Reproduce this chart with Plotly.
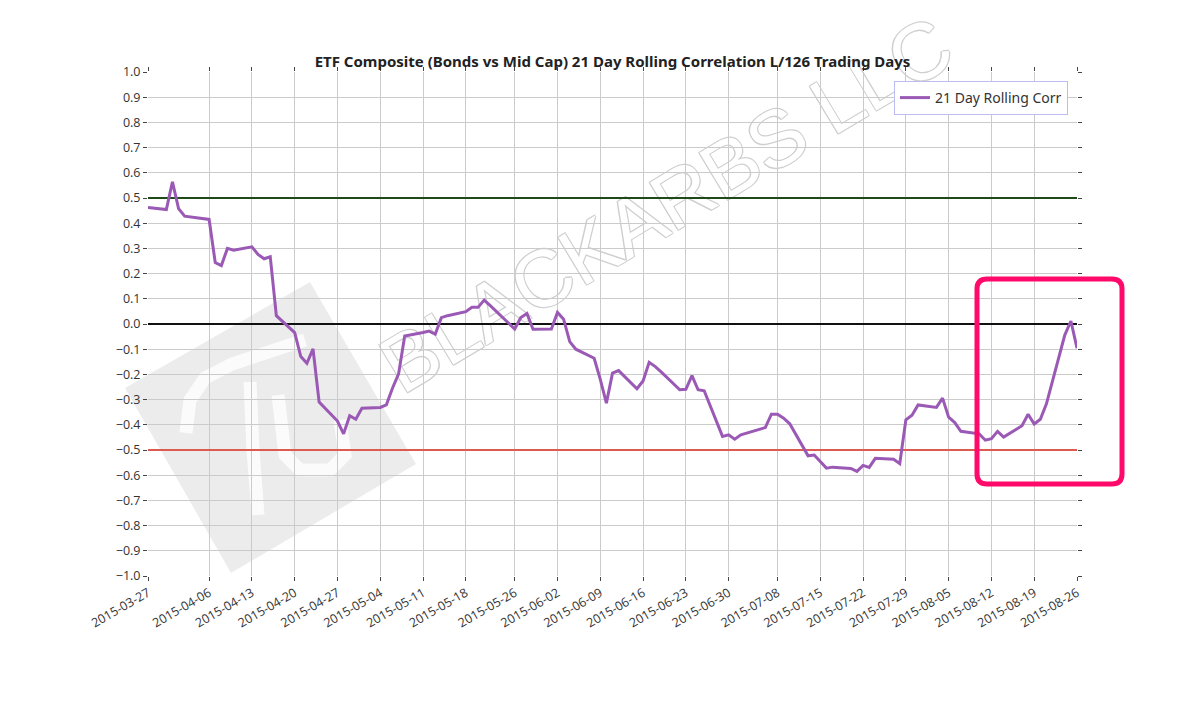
import plotly.graph_objects as go

# ---------------- data ----------------
dates = [
    "2015-03-27", "2015-03-30", "2015-03-31", "2015-04-01", "2015-04-02",
    "2015-04-06", "2015-04-07", "2015-04-08", "2015-04-09", "2015-04-10",
    "2015-04-13", "2015-04-14", "2015-04-15", "2015-04-16", "2015-04-17",
    "2015-04-20", "2015-04-21", "2015-04-22", "2015-04-23", "2015-04-24",
    "2015-04-27", "2015-04-28", "2015-04-29", "2015-04-30", "2015-05-01",
    "2015-05-04", "2015-05-05", "2015-05-06", "2015-05-07", "2015-05-08",
    "2015-05-11", "2015-05-12", "2015-05-13", "2015-05-14", "2015-05-15",
    "2015-05-18", "2015-05-19", "2015-05-20", "2015-05-21", "2015-05-22",
    "2015-05-26", "2015-05-27", "2015-05-28", "2015-05-29", "2015-06-01",
    "2015-06-02", "2015-06-03", "2015-06-04", "2015-06-05", "2015-06-08",
    "2015-06-09", "2015-06-10", "2015-06-11", "2015-06-12", "2015-06-15",
    "2015-06-16", "2015-06-17", "2015-06-18", "2015-06-19", "2015-06-22",
    "2015-06-23", "2015-06-24", "2015-06-25", "2015-06-26", "2015-06-29",
    "2015-06-30", "2015-07-01", "2015-07-02", "2015-07-06", "2015-07-07",
    "2015-07-08", "2015-07-09", "2015-07-10", "2015-07-13", "2015-07-14",
    "2015-07-15", "2015-07-16", "2015-07-17", "2015-07-20", "2015-07-21",
    "2015-07-22", "2015-07-23", "2015-07-24", "2015-07-27", "2015-07-28",
    "2015-07-29", "2015-07-30", "2015-07-31", "2015-08-03", "2015-08-04",
    "2015-08-05", "2015-08-06", "2015-08-07", "2015-08-10", "2015-08-11",
    "2015-08-12", "2015-08-13", "2015-08-14", "2015-08-17", "2015-08-18",
    "2015-08-19", "2015-08-20", "2015-08-21", "2015-08-24", "2015-08-25",
    "2015-08-26",
]

corr_21d = [
    0.462, 0.454, 0.564, 0.458, 0.428,
    0.415, 0.244, 0.232, 0.300, 0.293,
    0.306, 0.276, 0.259, 0.267, 0.033,
    -0.034, -0.129, -0.156, -0.099, -0.310,
    -0.385, -0.436, -0.364, -0.378, -0.334,
    -0.331, -0.321, -0.255, -0.198, -0.048,
    -0.034, -0.028, -0.040, 0.025, 0.033,
    0.049, 0.066, 0.066, 0.095, 0.073,
    -0.020, 0.026, 0.042, -0.021, -0.020,
    0.046, 0.019, -0.070, -0.100, -0.136,
    -0.220, -0.314, -0.195, -0.185, -0.257,
    -0.226, -0.152, -0.169, -0.191, -0.261,
    -0.259, -0.205, -0.261, -0.265, -0.446,
    -0.440, -0.457, -0.440, -0.411, -0.358,
    -0.358, -0.374, -0.396, -0.523, -0.520,
    -0.547, -0.572, -0.568, -0.573, -0.585,
    -0.561, -0.569, -0.533, -0.537, -0.554,
    -0.380, -0.362, -0.321, -0.331, -0.294,
    -0.370, -0.391, -0.426, -0.436, -0.461,
    -0.455, -0.426, -0.449, -0.404, -0.358,
    -0.397, -0.378, -0.317, -0.044, 0.012,
    -0.096,
]

series_name = "21 Day Rolling Corr"
chart_title = "ETF Composite (Bonds vs Mid Cap) 21 Day Rolling Correlation L/126 Trading Days"
ref_levels = [0.5, 0.0, -0.5]
ref_colors = ["#1d4a17", "#111111", "#dc5a50"]
y_tick_values = [-1.0, -0.9, -0.8, -0.7, -0.6, -0.5, -0.4, -0.3, -0.2, -0.1, 0.0,
                 0.1, 0.2, 0.3, 0.4, 0.5, 0.6, 0.7, 0.8, 0.9, 1.0]
x_tick_dates = dates[::5]
watermark_text = "BLACKARBS LLC"

# ---------------- layout geometry ----------------
# page has an 8px body margin, so figure coordinates = screen coordinates - 8
OFF = 8
W, H = 1195 - OFF, 720 - OFF
PLOT_L, PLOT_R, PLOT_T, PLOT_B = 148, 1077, 72, 576   # screen pixels of plot area
ML, MT = PLOT_L - OFF, PLOT_T - OFF
MR, MB = W - (PLOT_R - OFF), H - (PLOT_B - OFF)
PW, PH = PLOT_R - PLOT_L, PLOT_B - PLOT_T


def paper(x, y):
    # screen pixel -> paper coordinates
    return (x - PLOT_L) / PW, (PLOT_B - y) / PH


def path_from(points, close=True):
    parts = []
    for i, (x, y) in enumerate(points):
        px, py = paper(x, y)
        parts.append(("M" if i == 0 else "L") + f"{px:.5f},{py:.5f}")
    return " ".join(parts) + (" Z" if close else "")


def rounded_rect(x0, y0, x1, y1, r):
    def p(x, y):
        a, b = paper(x, y)
        return f"{a:.5f},{b:.5f}"
    return (f"M{p(x0 + r, y0)} L{p(x1 - r, y0)} Q{p(x1, y0)} {p(x1, y0 + r)} "
            f"L{p(x1, y1 - r)} Q{p(x1, y1)} {p(x1 - r, y1)} "
            f"L{p(x0 + r, y1)} Q{p(x0, y1)} {p(x0, y1 - r)} "
            f"L{p(x0, y0 + r)} Q{p(x0, y0)} {p(x0 + r, y0)} Z")


fig = go.Figure()
# reference levels (drawn beneath the correlation line)
for lvl, col in zip(ref_levels, ref_colors):
    fig.add_trace(go.Scatter(
        x=[dates[0], dates[-1]], y=[lvl, lvl], mode="lines",
        line=dict(color=col, width=2), showlegend=False, hoverinfo="skip",
    ))
fig.add_trace(go.Scatter(
    x=dates, y=corr_21d, mode="lines", name=series_name,
    line=dict(color="#9b59b6", width=3),
))

shapes = []
# watermark logo square
shapes.append(dict(type="path", xref="paper", yref="paper", layer="below",
                   path=path_from([(310, 282), (125, 388), (231, 573), (416, 464)]),
                   fillcolor="rgba(0,0,0,0.075)", line=dict(width=0)))
# logo strokes (white)
for pts in [
    [(186, 433), (190, 400), (205, 378), (232, 364), (305, 340)],
    [(250, 382), (253, 450), (258, 515)],
    [(278, 395), (285, 455), (300, 470), (330, 470), (345, 455), (340, 420)],
]:
    shapes.append(dict(type="path", xref="paper", yref="paper", layer="below",
                       path=path_from(pts, close=False),
                       line=dict(color="rgba(255,255,255,0.8)", width=13)))
# watermark text (label of an invisible box that encloses it)
x0p, y1p = paper(370, 18)
x1p, y0p = paper(954, 378)
shapes.append(dict(type="rect", xref="paper", yref="paper", layer="below",
                   x0=x0p, x1=x1p, y0=y0p, y1=y1p,
                   line=dict(width=0), fillcolor="rgba(0,0,0,0)",
                   label=dict(text=watermark_text, textangle=-31,
                              textposition="middle center",
                              font=dict(family="Liberation Sans", size=80, color="white",
                                        shadow="-1px -1px 0 #cfcfcf, 1px -1px 0 #cfcfcf, "
                                               "-1px 1px 0 #cfcfcf, 1px 1px 0 #cfcfcf"))))
# highlight box
shapes.append(dict(type="path", xref="paper", yref="paper", layer="above",
                   path=rounded_rect(977, 279, 1122, 484, 10),
                   line=dict(color="#ff0a6a", width=5), fillcolor="rgba(0,0,0,0)"))

tick_font = dict(family="Open Sans", size=12.5, color="#333333")

fig.update_layout(
    width=W, height=H,
    margin=dict(l=ML, r=MR, t=MT, b=MB, autoexpand=False),
    paper_bgcolor="white", plot_bgcolor="white",
    title=dict(text=chart_title, x=((PLOT_L + PLOT_R) / 2 - OFF) / W, xanchor="center",
               y=1 - (62 - OFF) / H, yanchor="middle", yref="container",
               font=dict(family="Noto Sans", size=15, color="#222222", weight="bold")),
    showlegend=True,
    legend=dict(x=(1068 - PLOT_L) / PW, y=(PLOT_B - 81) / PH, xanchor="right", yanchor="top",
                bgcolor="white", bordercolor="#bcbcf2", borderwidth=1,
                font=dict(family="Noto Sans", size=14, color="#333333")),
    shapes=shapes,
    xaxis=dict(type="date", range=[dates[0], dates[-1]], automargin=False,
               tickmode="array", tickvals=x_tick_dates, ticktext=x_tick_dates,
               tickangle=-30, tickfont=tick_font,
               showgrid=True, gridcolor="#cbcbcb", gridwidth=1,
               ticks="outside", ticklen=4, tickcolor="#444444", mirror="ticks",
               showline=False, zeroline=False),
    yaxis=dict(range=[-1, 1], tickmode="array", tickvals=y_tick_values, automargin=False,
               tickformat=".1f", tickfont=tick_font,
               showgrid=True, gridcolor="#cbcbcb", gridwidth=1,
               ticks="outside", ticklen=4, tickcolor="#444444", mirror="ticks",
               showline=False, zeroline=False),
)

fig.write_html("out.html")
